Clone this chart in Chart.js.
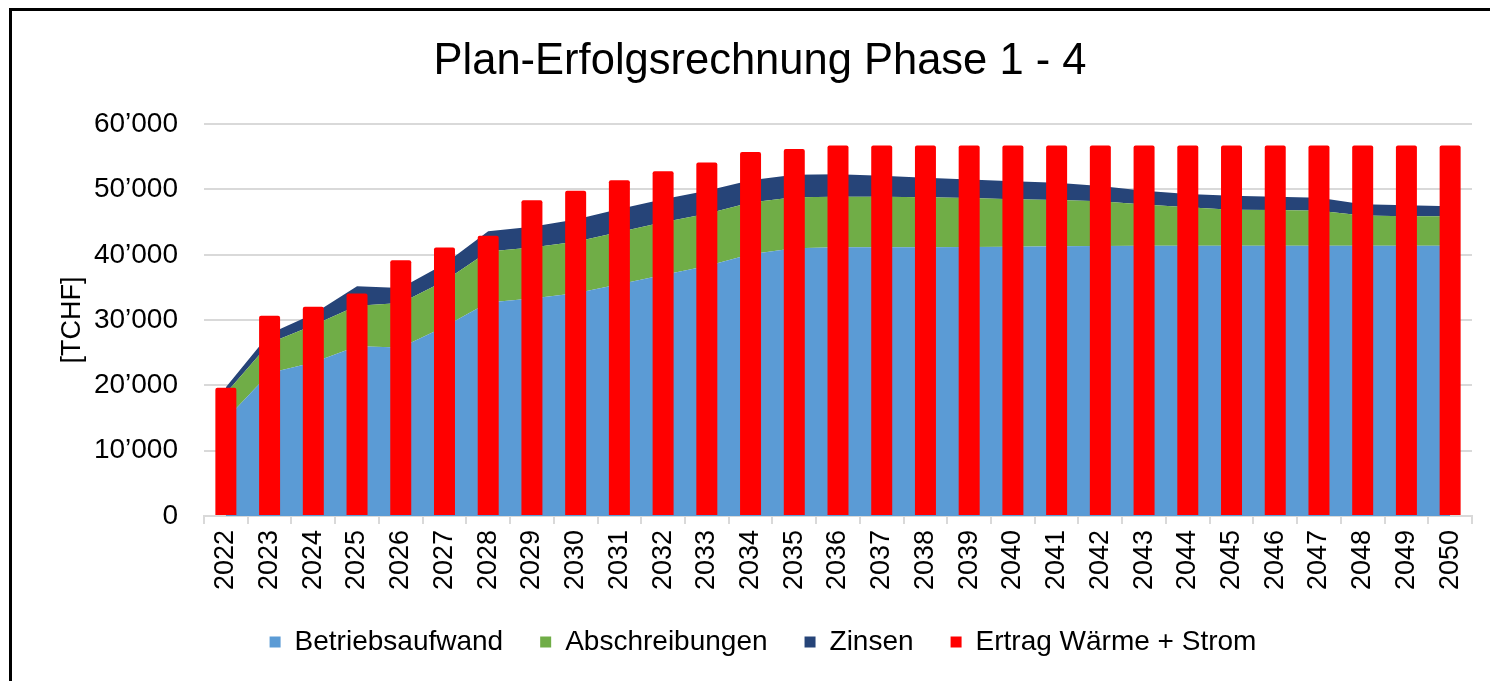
<!DOCTYPE html>
<html lang="de">
<head>
<meta charset="utf-8">
<title>Plan-Erfolgsrechnung Phase 1 - 4</title>
<script src="https://cdn.jsdelivr.net/npm/chart.js@4.4.1/dist/chart.umd.min.js"></script>
<style>
  html, body { margin: 0; padding: 0; background: #fff; }
  #wrap { position: relative; width: 1490px; height: 681px; overflow: hidden; }
  #rahmen { position: absolute; left: 9px; top: 8px; right: -10px; bottom: -10px;
            border-left: 3px solid #000; border-top: 3px solid #000; pointer-events: none; }
  canvas { position: absolute; left: 0; top: 0; }
</style>
</head>
<body>
<div id="wrap">
  <canvas id="chartER" width="1490" height="681"></canvas>
  <div id="rahmen"></div>
</div>
<script>
// Werte (TCHF)
const JAHRE = ['2022', '2023', '2024', '2025', '2026', '2027', '2028', '2029', '2030', '2031',
  '2032', '2033', '2034', '2035', '2036', '2037', '2038', '2039', '2040', '2041',
  '2042', '2043', '2044', '2045', '2046', '2047', '2048', '2049', '2050'];

const BETRIEBSAUFWAND = [14800, 21900, 23500, 26000, 25800, 29000, 32700, 33300, 34100, 35500,
  36900, 38300, 40100, 41000, 41150, 41150, 41150, 41200, 41250, 41300,
  41350, 41400, 41400, 41400, 41400, 41400, 41400, 41400, 41400];

const ABSCHREIBUNGEN = [4000, 4600, 5700, 6200, 6800, 7000, 7800, 7800, 7900, 8000,
  8100, 8000, 7900, 7800, 7750, 7750, 7650, 7500, 7250, 7100,
  6850, 6300, 5900, 5500, 5450, 5350, 4600, 4500, 4500];

const ZINSEN = [900, 1400, 1750, 3000, 2300, 2600, 3100, 3200, 3400, 3500,
  3500, 3500, 3400, 3450, 3450, 3200, 3000, 2850, 2750, 2650,
  2350, 2100, 2000, 2150, 2050, 2000, 1750, 1700, 1550];

const ERTRAG = [19640, 30660, 32040, 34080, 39180, 41120, 42900, 48350, 49800, 51400,
  52800, 54140, 55760, 56220, 56750, 56750, 56750, 56750, 56750, 56750,
  56750, 56750, 56750, 56750, 56750, 56750, 56750, 56750, 56750];

const Y_MAX = 60000;
const Y_SCHRITT = 10000;

const SCHRIFT = "'Liberation Sans', Arial, sans-serif";

function tausender(v) {
  return String(v).replace(/\B(?=(\d{3})+(?!\d))/g, '\u2019');
}

function flaeche(label, werte, farbe, fill) {
  return {
    type: 'line',
    label: label,
    data: werte,
    stack: 'kosten',
    order: 1,
    backgroundColor: farbe,
    borderColor: farbe,
    borderWidth: 0,
    pointRadius: 0,
    tension: 0,
    fill: fill
  };
}

// Titel und Legende wie im Original etwas nach rechts versetzen
const versatz = {
  id: 'versatz',
  afterLayout(chart) {
    chart.titleBlock.left += 24;
    chart.titleBlock.right += 24;
    chart.legend.left += 27;
    chart.legend.right += 27;
  }
};

const ctx = document.getElementById('chartER').getContext('2d');
new Chart(ctx, {
  data: {
    labels: JAHRE,
    datasets: [
      flaeche('Betriebsaufwand', BETRIEBSAUFWAND, '#5b9bd5', 'origin'),
      flaeche('Abschreibungen', ABSCHREIBUNGEN, '#70ad47', '-1'),
      flaeche('Zinsen', ZINSEN, '#264478', '-1'),
      {
        type: 'bar',
        label: 'Ertrag W\u00e4rme + Strom',
        data: ERTRAG,
        stack: 'ertrag',
        order: 0,
        backgroundColor: '#ff0000',
        borderRadius: 2,
        borderSkipped: 'start',
        categoryPercentage: 1,
        barPercentage: 0.48
      }
    ]
  },
  options: {
    responsive: false,
    animation: false,
    devicePixelRatio: 1,
    layout: { padding: { left: 0, right: 18, top: 0, bottom: 15 } },
    plugins: {
      title: {
        display: true,
        text: 'Plan-Erfolgsrechnung Phase 1 - 4',
        color: '#000',
        font: { family: SCHRIFT, size: 43.5, weight: 'normal', lineHeight: 1.2 },
        padding: { top: 36, bottom: 36 }
      },
      legend: {
        position: 'bottom',
        labels: {
          font: { family: SCHRIFT, size: 28 },
          color: '#000',
          boxWidth: 11,
          boxHeight: 11,
          padding: 37,
          sort: (a, b) => a.datasetIndex - b.datasetIndex
        }
      },
      tooltip: { enabled: false }
    },
    scales: {
      x: {
        stacked: true,
        offset: true,
        grid: {
          display: true,
          drawOnChartArea: false,
          drawTicks: true,
          tickLength: 8,
          color: '#d9d9d9',
          lineWidth: 2,
          offset: true
        },
        border: { display: true, color: '#d9d9d9', width: 2 },
        ticks: {
          color: '#000',
          font: { family: SCHRIFT, size: 27 },
          minRotation: 90,
          maxRotation: 90,
          autoSkip: false,
          padding: 6
        },
        afterFit(scale) { scale.height = 75; }
      },
      y: {
        stacked: true,
        min: 0,
        max: Y_MAX,
        grid: { color: '#d9d9d9', lineWidth: 2, drawTicks: false },
        border: { display: false },
        ticks: {
          stepSize: Y_SCHRITT,
          color: '#000',
          font: { family: SCHRIFT, size: 28 },
          padding: 26,
          callback: (v) => tausender(v)
        },
        title: {
          display: true,
          text: '[TCHF]',
          color: '#000',
          font: { family: SCHRIFT, size: 27 },
          padding: { top: 56, bottom: 0 }
        },
        afterFit(scale) { scale.width = 204; }
      }
    }
  },
  plugins: [versatz]
});
</script>
</body>
</html>
